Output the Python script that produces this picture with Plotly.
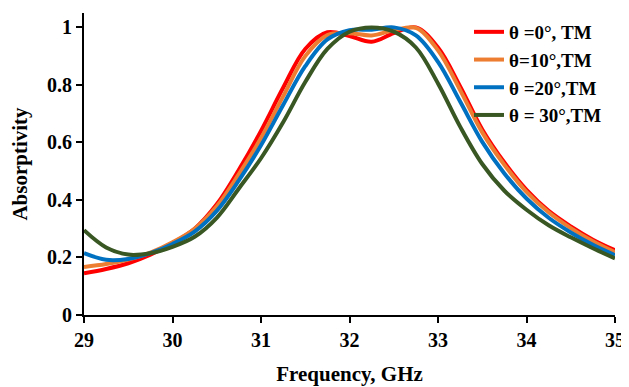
import plotly.graph_objects as go

freq = [29.0, 29.25, 29.5, 29.75, 30.0, 30.25, 30.5, 30.75, 31.0, 31.25, 31.5, 31.75,
        32.0, 32.25, 32.5, 32.75, 33.0, 33.25, 33.5, 33.75, 34.0, 34.25, 34.5, 34.75, 35.0]

theta0 = [0.145, 0.160, 0.180, 0.210, 0.250, 0.300, 0.385, 0.505, 0.640, 0.790, 0.925, 0.983,
          0.970, 0.950, 0.980, 1.000, 0.930, 0.795, 0.645, 0.530, 0.435, 0.362, 0.308, 0.262, 0.225]
theta10 = [0.167, 0.177, 0.193, 0.217, 0.253, 0.300, 0.378, 0.490, 0.615, 0.760, 0.900, 0.973,
           0.980, 0.972, 0.990, 0.998, 0.920, 0.782, 0.635, 0.522, 0.428, 0.357, 0.302, 0.256, 0.218]
theta20 = [0.215, 0.192, 0.195, 0.215, 0.247, 0.290, 0.362, 0.468, 0.590, 0.730, 0.865, 0.958,
           0.990, 0.992, 1.000, 0.972, 0.880, 0.742, 0.602, 0.492, 0.405, 0.338, 0.287, 0.244, 0.208]
theta30 = [0.295, 0.235, 0.210, 0.215, 0.237, 0.272, 0.338, 0.440, 0.545, 0.670, 0.810, 0.925,
           0.985, 1.000, 0.985, 0.930, 0.805, 0.655, 0.525, 0.432, 0.366, 0.312, 0.270, 0.232, 0.197]

names = ["θ =0°, TM", "θ=10°,TM", "θ =20°,TM", "θ = 30°,TM"]
colors = ["#FF0000", "#ED7D31", "#0070C0", "#385723"]
series = [theta0, theta10, theta20, theta30]

font_family = "Liberation Serif, Times New Roman, serif"

fig = go.Figure()
for name, col, ys in zip(names, colors, series):
    fig.add_trace(go.Scatter(x=freq, y=ys, mode="lines", name=name,
                             line=dict(color=col, width=4, shape="spline", smoothing=1.0)))

fig.update_layout(
    width=621, height=379,
    margin=dict(l=76, r=14, t=5, b=72),
    plot_bgcolor="white", paper_bgcolor="white",
    font=dict(family=font_family, size=20, color="black", weight="bold"),
    showlegend=True,
    legend=dict(x=0.725, y=1.0, xanchor="left", yanchor="top",
                bgcolor="rgba(0,0,0,0)", font=dict(size=19, family=font_family, weight="bold"),
                tracegroupgap=0),
)
fig.update_xaxes(range=[29, 35], tickvals=[29, 30, 31, 32, 33, 34, 35],
                 showline=True, linecolor="black", linewidth=2,
                 ticks="outside", ticklen=6, tickwidth=2, tickcolor="black",
                 showgrid=False, zeroline=False, automargin=False,
                 title=dict(text="Frequency, GHz", standoff=16,
                            font=dict(size=21, family=font_family, weight="bold")))
fig.update_yaxes(range=[0, 1.05], tickvals=[0, 0.2, 0.4, 0.6, 0.8, 1.0],
                 ticktext=["0", "0.2", "0.4", "0.6", "0.8", "1"],
                 showline=True, linecolor="black", linewidth=2,
                 ticks="outside", ticklen=6, tickwidth=2, tickcolor="black",
                 showgrid=False, zeroline=False, automargin=False,
                 title=dict(text="Absorptivity", standoff=17,
                            font=dict(size=21, family=font_family, weight="bold")))

fig.write_html("out.html")
